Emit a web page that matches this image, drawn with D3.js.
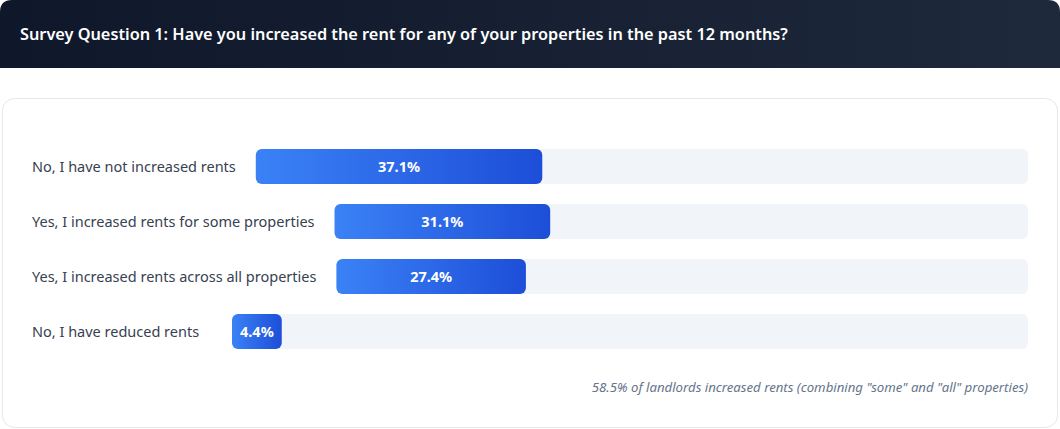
<!DOCTYPE html>
<html>
<head>
<meta charset="utf-8">
<script src="https://cdn.jsdelivr.net/npm/d3@7"></script>
<style>
  body { margin: 0; background: #fff; }
  svg { display: block; font-family: "Noto Sans", "Open Sans", sans-serif; }
</style>
</head>
<body>
<div id="container"></div>
<script>
let w = 1060;
let h = 429;

// survey answers + shares (%)
let answers = [
  "No, I have not increased rents",
  "Yes, I increased rents for some properties",
  "Yes, I increased rents across all properties",
  "No, I have reduced rents"
];
let shares = [37.1, 31.1, 27.4, 4.4];
let title = "Survey Question 1: Have you increased the rent for any of your properties in the past 12 months?";
let note = "58.5% of landlords increased rents (combining \"some\" and \"all\" properties)";

let labelX = 32;
let labelMin = 180;   // label column min width
let gap = 20;
let trackEnd = 1028;
let rowTop = 149;
let rowStep = 55;
let barH = 35;

let svg = d3.select("#container")
  .append("svg")
    .attr("width", w)
    .attr("height", h);

let defs = svg.append("defs");
let grad = defs.append("linearGradient").attr("id", "barGrad")
  .attr("x1", "0%").attr("x2", "100%").attr("y1", "0%").attr("y2", "0%");
grad.append("stop").attr("offset", "0%").attr("stop-color", "#3b82f6");
grad.append("stop").attr("offset", "100%").attr("stop-color", "#1d4ed8");

let hg = defs.append("linearGradient").attr("id", "headGrad")
  .attr("x1", "0%").attr("x2", "100%");
hg.append("stop").attr("offset", "0%").attr("stop-color", "#0f172a");
hg.append("stop").attr("offset", "100%").attr("stop-color", "#1e293b");

// header
svg.append("path")
  .attr("d", "M0,68 L0,12 Q0,0 12,0 L1048,0 Q1060,0 1060,12 L1060,68 Z")
  .attr("fill", "url(#headGrad)");
svg.append("text")
  .attr("x", 20).attr("y", 40)
  .attr("fill", "#fff")
  .attr("font-size", 16.3)
  .attr("font-weight", 600)
  .text(title);

// card
svg.append("rect")
  .attr("x", 2.5).attr("y", 98.5)
  .attr("width", 1055).attr("height", 329)
  .attr("rx", 12)
  .attr("fill", "#fff")
  .attr("stroke", "#e2e8f0");

let yScale = d3.scaleBand().domain(answers).range([rowTop, rowTop + rowStep * answers.length]);

let rows = svg.selectAll(".row").data(answers).enter()
  .append("g").classed("row", true)
  .attr("transform", d => "translate(0," + yScale(d) + ")");

rows.append("text")
  .attr("x", labelX).attr("y", barH / 2)
  .attr("dy", "0.35em")
  .attr("font-size", 14.5)
  .attr("fill", "#374151")
  .text(d => d);

rows.each(function(d, i) {
  let g = d3.select(this);
  let tw = g.select("text").node().getComputedTextLength();
  let start = labelX + Math.max(tw, labelMin) + gap;
  let x = d3.scaleLinear().domain([0, 100]).range([start, trackEnd]);

  g.append("rect")
    .attr("x", x(0)).attr("y", 0)
    .attr("width", x(100) - x(0)).attr("height", barH)
    .attr("rx", 6)
    .attr("fill", "#f1f5f9");

  let bar = g.append("rect")
    .attr("x", x(0)).attr("y", 0)
    .attr("height", barH)
    .attr("rx", 6)
    .attr("fill", "url(#barGrad)");

  let vt = g.append("text")
    .attr("y", barH / 2).attr("dy", "0.35em")
    .attr("text-anchor", "middle")
    .attr("font-size", 14.5)
    .attr("font-weight", 700)
    .attr("fill", "#fff")
    .text(shares[i].toFixed(1) + "%");
  let vw = vt.node().getComputedTextLength();
  let bw = Math.max(x(shares[i]) - x(0), vw + 16);
  bar.attr("width", bw);
  vt.attr("x", x(0) + bw / 2);
});

svg.append("text")
  .attr("x", trackEnd).attr("y", 392)
  .attr("text-anchor", "end")
  .attr("font-size", 13.2)
  .attr("font-style", "italic")
  .attr("fill", "#64748b")
  .text(note);
</script>
</body>
</html>
